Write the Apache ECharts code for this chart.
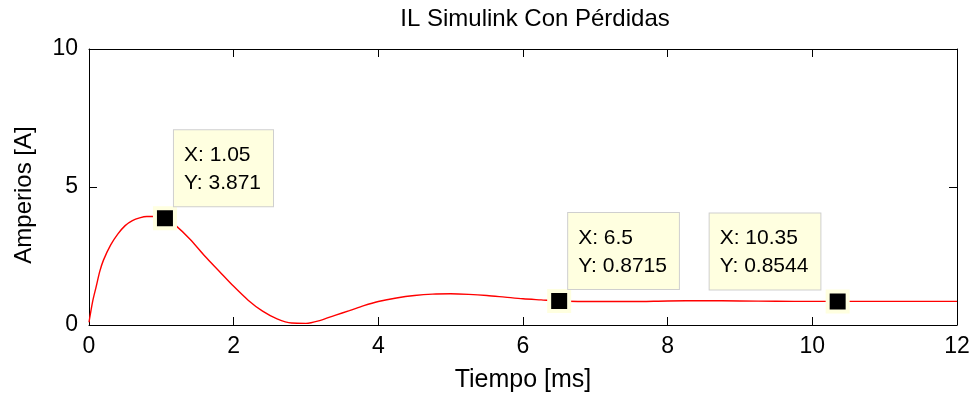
<!DOCTYPE html>
<html>
<head>
<meta charset="utf-8">
<script src="https://cdn.jsdelivr.net/npm/echarts@6/dist/echarts.min.js"></script>
<style>
  html, body { margin: 0; padding: 0; background: #fff; }
  #main { width: 976px; height: 400px; }
</style>
</head>
<body>
<div id="main"></div>
<script>
// datos
const timeMs = [0, 0.05, 0.1, 0.15, 0.2, 0.3, 0.4, 0.5, 0.6, 0.7, 0.8, 0.9, 1.0, 1.05, 1.2,
  1.4, 1.6, 1.8, 2.0, 2.2, 2.4, 2.6, 2.8, 3.0, 3.2, 3.4, 3.6, 3.8, 4.0, 4.25,
  4.5, 4.75, 5.0, 5.25, 5.5, 5.75, 6.0, 6.25, 6.5, 7.0, 7.5, 8.0, 8.5, 9.0, 9.5,
  10.0, 10.35, 11.0, 11.5, 12.0]
const currentA = [0.1, 0.85, 1.4, 1.95, 2.35, 2.9, 3.3, 3.6, 3.78, 3.88, 3.93, 3.93, 3.9, 3.871, 3.6,
  3.1, 2.5, 1.95, 1.4, 0.9, 0.5, 0.22, 0.07, 0.06, 0.17, 0.35, 0.52, 0.7, 0.85, 0.98,
  1.07, 1.12, 1.13, 1.11, 1.07, 1.01, 0.95, 0.91, 0.8715, 0.85, 0.85, 0.87, 0.88, 0.87, 0.86,
  0.855, 0.8544, 0.855, 0.855, 0.855]
// data tips
const tipX = [1.05, 6.5, 10.35]
const tipY = [3.871, 0.8715, 0.8544]
const tipSide = ['right', 'right', 'left']

const font = 'Arial, "Liberation Sans", sans-serif'

let lineData = timeMs.map((t, i) => [t, currentA[i]])
let tipData = tipX.map((x, i) => ({
  value: [x, tipY[i]],
  label: {position: tipSide[i] === 'right' ? [21, 0] : [-116, 0]}
}))

function xAxisCfg (show) {
  return {
    type: 'value',
    min: 0,
    max: 12,
    interval: 2,
    position: show ? 'bottom' : 'top',
    name: show ? 'Tiempo [ms]' : '',
    nameLocation: 'middle',
    nameGap: 43,
    nameTextStyle: {color: '#000', fontSize: 25, fontFamily: font},
    axisLine: {show: true, onZero: false, lineStyle: {color: '#000', width: 1}},
    axisTick: {show: true, inside: true, length: 8, lineStyle: {color: '#000'}},
    axisLabel: {show: show, color: '#000', fontSize: 23, fontFamily: font, margin: 10},
    splitLine: {show: false}
  }
}
function yAxisCfg (show) {
  return {
    type: 'value',
    min: 0,
    max: 10,
    interval: 5,
    position: show ? 'left' : 'right',
    name: show ? 'Amperios [A]' : '',
    nameLocation: 'middle',
    nameGap: 53,
    nameTextStyle: {color: '#000', fontSize: 24, fontFamily: font, padding: [0, 16, 0, 0]},
    axisLine: {show: true, onZero: false, lineStyle: {color: '#000', width: 1}},
    axisTick: {show: true, inside: true, length: 8, lineStyle: {color: '#000'}},
    axisLabel: {show: show, color: '#000', fontSize: 23, fontFamily: font, margin: 11},
    splitLine: {show: false}
  }
}

let option = {
  backgroundColor: '#fff',
  animation: false,
  title: {
    text: 'IL Simulink Con Pérdidas',
    left: 530,
    top: 2,
    textAlign: 'center',
    textStyle: {color: '#000', fontSize: 24, fontWeight: 'normal', fontFamily: font}
  },
  grid: {left: 89, right: 19, top: 49, bottom: 75, containLabel: false},
  xAxis: [xAxisCfg(true), xAxisCfg(false)],
  yAxis: [yAxisCfg(true), yAxisCfg(false)],
  series: [
    {
      name: 'IL',
      type: 'line',
      data: lineData,
      smooth: 0.3,
      symbol: 'none',
      lineStyle: {color: '#ff0000', width: 1.4}
    },
    {
      name: 'tips',
      type: 'scatter',
      data: tipData,
      symbol: 'rect',
      symbolSize: 20,
      itemStyle: {color: '#000', borderColor: '#ffffe0', borderWidth: 4, opacity: 1},
      label: {
        show: true,
        align: 'left',
        verticalAlign: 'bottom',
        formatter: p => 'X: ' + p.value[0] + '\nY: ' + p.value[1],
        color: '#000',
        fontSize: 21,
        fontFamily: font,
        lineHeight: 28,
        backgroundColor: '#ffffe0',
        borderColor: '#cfcfcf',
        borderWidth: 1,
        padding: [11, 12, 9, 10]
      },
      z: 5
    }
  ]
}

let chart = echarts.init(document.getElementById('main'))
chart.setOption(option)
</script>
</body>
</html>
